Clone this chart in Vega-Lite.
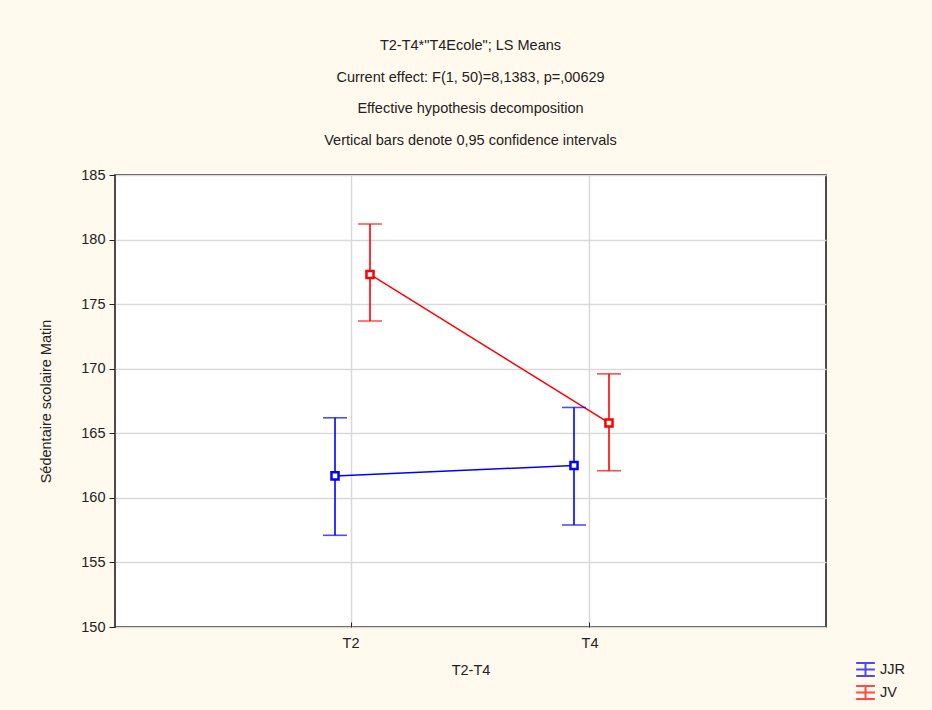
{
  "$schema": "https://vega.github.io/schema/vega-lite/v6.json",
  "width": 711,
  "height": 452,
  "autosize": {"type": "none"},
  "padding": {"left": 115, "top": 175, "right": 106, "bottom": 83},
  "background": "#fff9ee",
  "title": {
    "text": ["T2-T4*\"T4Ecole\"; LS Means", "Current effect: F(1, 50)=8,1383, p=,00629", "Effective hypothesis decomposition", "Vertical bars denote 0,95 confidence intervals"],
    "font": "Liberation Sans",
    "fontSize": 14.5,
    "fontWeight": "normal",
    "color": "#222222",
    "lineHeight": 31.5,
    "offset": 19,
    "anchor": "middle"
  },
  "config": {
    "view": {"fill": "white", "stroke": "#111111", "strokeWidth": 1.5},
    "axis": {
      "labelFont": "Liberation Sans",
      "titleFont": "Liberation Sans",
      "labelFontSize": 14.5,
      "titleFontSize": 14.5,
      "titleFontWeight": "normal",
      "labelColor": "#222222",
      "titleColor": "#222222",
      "gridColor": "#d9d9d9",
      "gridWidth": 1.5,
      "domain": false,
      "tickColor": "#222222"
    }
  },
  "data": {
    "values": [
      {"group": "JJR", "time": "T2", "mean": 161.7, "lo": 157.1, "hi": 166.2},
      {"group": "JJR", "time": "T4", "mean": 162.5, "lo": 157.9, "hi": 167.0},
      {"group": "JV", "time": "T2", "mean": 177.3, "lo": 173.7, "hi": 181.2},
      {"group": "JV", "time": "T4", "mean": 165.8, "lo": 162.1, "hi": 169.6}
    ]
  },
  "encoding": {
    "x": {
      "field": "time",
      "type": "nominal",
      "scale": {"type": "band", "paddingInner": 0, "paddingOuter": 0.4875},
      "axis": {"title": "T2-T4", "labelAngle": 0, "bandPosition": 0.5, "grid": true, "tickSize": -5, "labelPadding": 14, "titlePadding": 14}
    },
    "xOffset": {
      "field": "group",
      "type": "nominal",
      "scale": {"type": "point", "padding": 0, "range": [103.5, 138.5]}
    },
    "color": {
      "field": "group",
      "type": "nominal",
      "scale": {"domain": ["JJR", "JV"], "range": ["#0000ff", "#ff0000"]},
      "legend": {
        "title": null,
        "orient": "none",
        "legendX": 740,
        "legendY": 484,
        "labelFont": "Liberation Sans",
        "labelFontSize": 14.5,
        "labelColor": "#222222",
        "symbolType": "M-1,-0.7H1M-1,0.7H1M0,-0.7V0.7M-1,0H1",
        "symbolSize": 350,
        "symbolStrokeWidth": 2,
        "rowPadding": 0
      }
    }
  },
  "layer": [
    {
      "mark": {"type": "line", "strokeWidth": 1.5},
      "encoding": {
        "y": {
          "field": "mean",
          "type": "quantitative",
          "scale": {"domain": [150, 185], "nice": false, "zero": false},
          "axis": {"title": "Sédentaire scolaire Matin", "values": [150, 155, 160, 165, 170, 175, 180, 185], "tickSize": 6, "labelPadding": 4, "titlePadding": 27, "labelOverlap": false}
        },
        "detail": {"field": "group"}
      }
    },
    {
      "mark": {"type": "rule", "strokeWidth": 1.6},
      "encoding": {
        "y": {"field": "lo", "type": "quantitative", "axis": {"title": "Sédentaire scolaire Matin", "values": [150, 155, 160, 165, 170, 175, 180, 185], "tickSize": 6, "labelPadding": 4, "titlePadding": 27, "labelOverlap": false}},
        "y2": {"field": "hi"}
      }
    },
    {
      "mark": {"type": "tick", "orient": "horizontal", "size": 24, "thickness": 1.6},
      "encoding": {"y": {"field": "lo", "type": "quantitative", "axis": {"title": "Sédentaire scolaire Matin", "values": [150, 155, 160, 165, 170, 175, 180, 185], "tickSize": 6, "labelPadding": 4, "titlePadding": 27, "labelOverlap": false}}}
    },
    {
      "mark": {"type": "tick", "orient": "horizontal", "size": 24, "thickness": 1.6},
      "encoding": {"y": {"field": "hi", "type": "quantitative", "axis": {"title": "Sédentaire scolaire Matin", "values": [150, 155, 160, 165, 170, 175, 180, 185], "tickSize": 6, "labelPadding": 4, "titlePadding": 27, "labelOverlap": false}}}
    },
    {
      "mark": {"type": "point", "shape": "square", "filled": false, "fill": "white", "size": 50, "strokeWidth": 2.5, "opacity": 1},
      "encoding": {"y": {"field": "mean", "type": "quantitative", "axis": {"title": "Sédentaire scolaire Matin", "values": [150, 155, 160, 165, 170, 175, 180, 185], "tickSize": 6, "labelPadding": 4, "titlePadding": 27, "labelOverlap": false}}}
    }
  ]
}
